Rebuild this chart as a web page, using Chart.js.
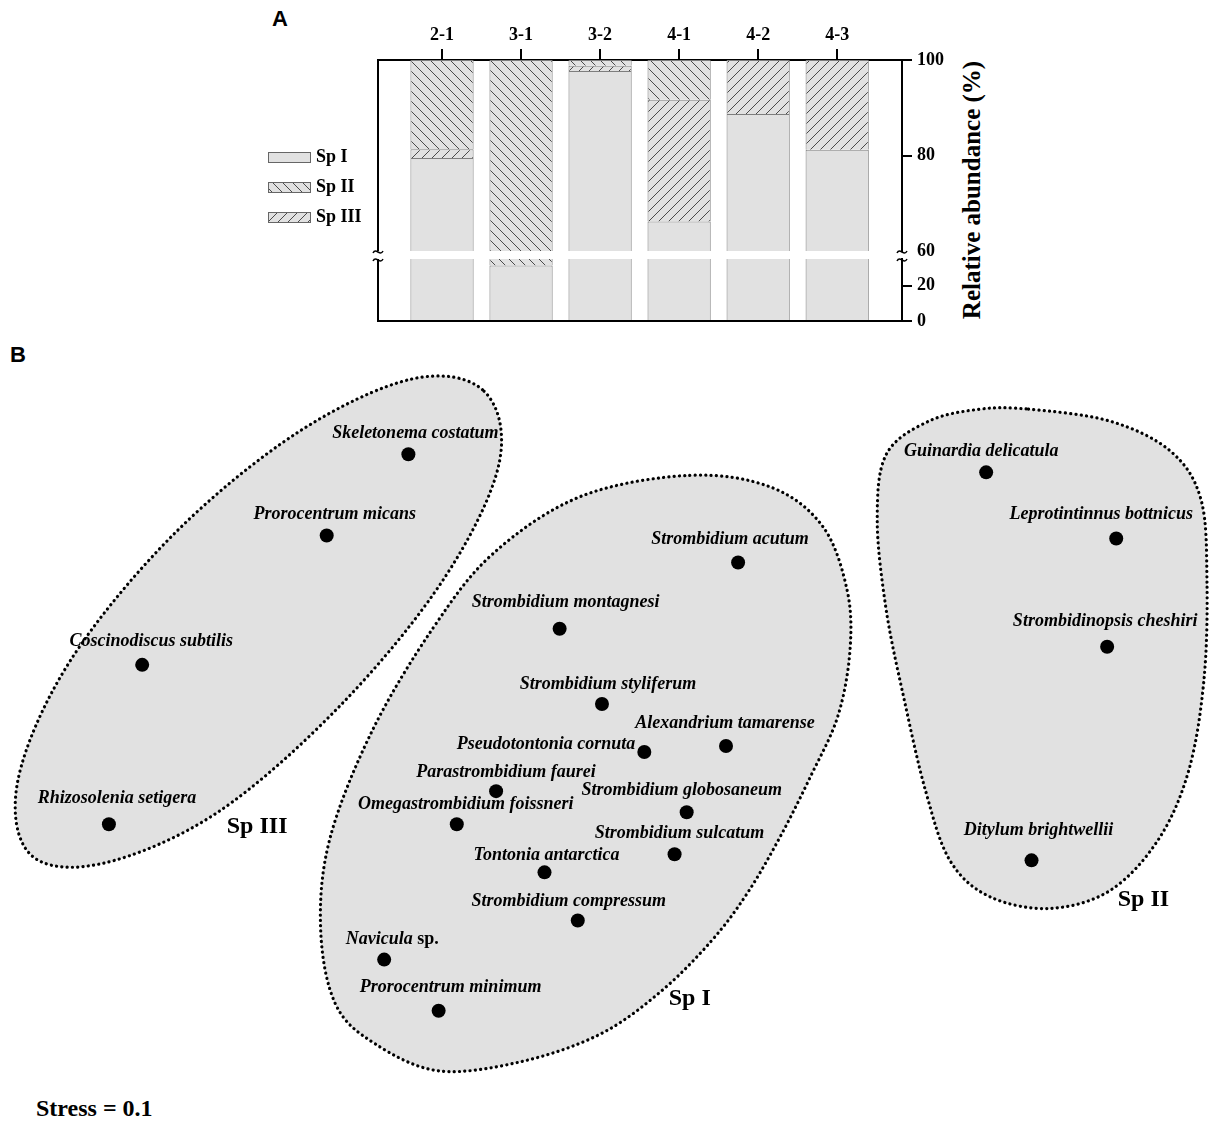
<!DOCTYPE html>
<html>
<head>
<meta charset="utf-8">
<script src="https://cdn.jsdelivr.net/npm/chart.js@4.4.0/dist/chart.umd.min.js"></script>
<style>
  body { margin: 0; background: #fff; width: 1210px; height: 1122px; position: relative; overflow: hidden; }
  canvas { position: absolute; left: 0; }
  .txt { position: absolute; color: #000; white-space: nowrap; }
  .sans { font: bold 22px "Liberation Sans", Arial, sans-serif; }
  .serif { font: bold 24px "Liberation Serif", "Times New Roman", serif; }
</style>
</head>
<body>
<div class="txt sans" style="left:272px; top:6px;">A</div>
<div class="txt sans" style="left:10px; top:342px;">B</div>
<div class="txt serif" style="left:972px; top:190px; font-size:25px; transform:translate(-50%,-50%) rotate(-90deg);">Relative abundance (%)</div>
<div class="txt serif" style="left:36px; top:1095px;">Stress = 0.1</div>

<canvas id="barTop" width="1210" height="270" style="top:0"></canvas>
<canvas id="barLow" width="1210" height="100" style="top:240px"></canvas>
<canvas id="nmds" width="1210" height="782" style="top:340px"></canvas>

<script>
// ---------------- DATA: panel A (relative abundance, %) ----------------
const sites = ["2-1", "3-1", "3-2", "4-1", "4-2", "4-3"];
const spI   = [79.5, 31.3, 97.7, 66.2, 88.7, 81.2];
const spII  = [18.7, 68.7, 1.2, 8.3, 0, 0];
const spIII = [1.8, 0, 1.1, 25.5, 11.3, 18.8];
const upperTicks = [60, 80, 100];
const lowerTicks = [0, 20];

// ---------------- DATA: panel B (NMDS ordination) ----------------
const grpIIINames = ["Skeletonema costatum", "Prorocentrum micans", "Coscinodiscus subtilis", "Rhizosolenia setigera"];
const grpIIIX = [-0.65, -0.92, -1.53, -1.64];
const grpIIIY = [0.92, 0.65, 0.22, -0.31];

const grpINames = ["Strombidium acutum", "Strombidium montagnesi", "Strombidium styliferum", "Alexandrium tamarense",
  "Pseudotontonia cornuta", "Parastrombidium faurei", "Strombidium globosaneum", "Omegastrombidium foissneri",
  "Strombidium sulcatum", "Tontonia antarctica", "Strombidium compressum", "Navicula sp.", "Prorocentrum minimum"];
const grpIX = [0.44, -0.15, -0.01, 0.40, 0.13, -0.36, 0.27, -0.49, 0.23, -0.20, -0.09, -0.73, -0.55];
const grpIY = [0.56, 0.34, 0.09, -0.05, -0.07, -0.20, -0.27, -0.31, -0.41, -0.47, -0.63, -0.76, -0.93];

const grpIINames = ["Guinardia delicatula", "Leprotintinnus bottnicus", "Strombidinopsis cheshiri", "Ditylum brightwellii"];
const grpIIX = [1.26, 1.69, 1.66, 1.41];
const grpIIY = [0.86, 0.64, 0.28, -0.43];

// group outlines (NMDS units)
const hullIIIX = [-0.40, -0.35, -0.53, -0.87, -1.28, -1.66, -1.90, -1.94, -1.77, -1.43, -1.02, -0.64];
const hullIIIY = [1.13, 0.89, 0.51, 0.09, -0.27, -0.44, -0.41, -0.16, 0.23, 0.65, 0.99, 1.17];
const hullIX = [0.28, 0.55, 0.72, 0.80, 0.81, 0.77, 0.68, 0.58, 0.47, 0.35, 0.18, -0.02, -0.28, -0.55, -0.76, -0.89, -0.94, -0.91, -0.77, -0.57, -0.37, -0.08];
const hullIY = [0.85, 0.81, 0.68, 0.47, 0.27, 0.05, -0.15, -0.35, -0.54, -0.70, -0.87, -1.01, -1.10, -1.13, -1.04, -0.91, -0.66, -0.36, 0.00, 0.34, 0.59, 0.78];
const hullIIX = [1.40, 1.67, 1.87, 1.97, 1.99, 1.98, 1.93, 1.83, 1.67, 1.47, 1.27, 1.14, 1.06, 0.99, 0.93, 0.90, 0.93, 1.07, 1.24];
const hullIIY = [1.07, 1.03, 0.93, 0.77, 0.50, 0.17, -0.13, -0.36, -0.53, -0.59, -0.55, -0.43, -0.20, 0.10, 0.40, 0.70, 0.92, 1.03, 1.07];

const groupTags = ["Sp III", "Sp I", "Sp II"];
const groupTagX = [-1.15, 0.28, 1.78];
const groupTagY = [-0.32, -0.89, -0.56];

// label placement relative to each dot (px): [dx, dy, align]
const labelNudge = {
  "Skeletonema costatum": [7, -21], "Prorocentrum micans": [8, -21], "Coscinodiscus subtilis": [9, -23],
  "Rhizosolenia setigera": [8, -26], "Strombidium acutum": [-8, -23], "Strombidium montagnesi": [6, -26],
  "Strombidium styliferum": [6, -20], "Alexandrium tamarense": [-1, -23], "Pseudotontonia cornuta": [-9, -8, "right"],
  "Parastrombidium faurei": [10, -19], "Strombidium globosaneum": [-5, -22], "Omegastrombidium foissneri": [9, -20],
  "Strombidium sulcatum": [5, -21], "Tontonia antarctica": [2, -17], "Strombidium compressum": [-9, -19],
  "Navicula sp.": [8, -20], "Prorocentrum minimum": [12, -23], "Guinardia delicatula": [-5, -21],
  "Leprotintinnus bottnicus": [-15, -24], "Strombidinopsis cheshiri": [-2, -25], "Ditylum brightwellii": [7, -30]
};

const serif = '"Liberation Serif", "Times New Roman", serif';
const grey = "#e1e1e1";

// ---------------- PATTERNS ----------------
function hatch(dir) {
  const s = 10;
  const c = document.createElement("canvas");
  c.width = c.height = s;
  const g = c.getContext("2d");
  g.fillStyle = grey;
  g.fillRect(0, 0, s, s);
  g.strokeStyle = "#4a4a4a";
  g.lineWidth = 1;
  g.beginPath();
  for (let k = -1; k <= 1; k++) {
    if (dir === "back") { g.moveTo(k * s, 0); g.lineTo(k * s + s, s); }
    else { g.moveTo(k * s, s); g.lineTo(k * s + s, 0); }
  }
  g.stroke();
  return g.createPattern(c, "repeat");
}
const fillSp = { "Sp I": grey, "Sp II": hatch("back"), "Sp III": hatch("fwd") };

// ---------------- PANEL A ----------------
function barSets() {
  const pts = arr => arr.map((v, i) => ({ x: i + 1, y: v || null }));
  return [["Sp I", spI], ["Sp III", spIII], ["Sp II", spII]].map(([label, arr]) => ({
    label, data: pts(arr), backgroundColor: fillSp[label],
    borderColor: "#7d7d7d", borderWidth: 1, clip: 0,
    categoryPercentage: 0.8, barPercentage: 1
  }));
}

function squiggle(ctx, x, y) {
  ctx.beginPath();
  ctx.moveTo(x - 5, y + 2);
  ctx.bezierCurveTo(x - 2, y - 4, x + 2, y + 6, x + 5, y);
  ctx.stroke();
}

const framePlugin = {
  id: "frame",
  afterDraw(chart, args, opts) {
    const { ctx, chartArea: a } = chart;
    ctx.save();
    ctx.strokeStyle = "#000";
    ctx.lineWidth = 2;
    ctx.beginPath();
    ctx.moveTo(a.left, a.top);
    ctx.lineTo(a.left, a.bottom);
    ctx.stroke();
    ctx.lineWidth = 1.5;
    const y = opts.brk === "bottom" ? a.bottom : a.top;
    squiggle(ctx, a.left, y);
    squiggle(ctx, a.right, y);
    if (opts.legend) {
      ["Sp I", "Sp II", "Sp III"].forEach((name, k) => {
        const ds = chart.data.datasets.find(d => d.label === name);
        const top = 152 + k * 30;
        ctx.fillStyle = ds.backgroundColor;
        ctx.fillRect(268, top, 42, 10);
        ctx.strokeStyle = "#666";
        ctx.lineWidth = 1;
        ctx.strokeRect(268.5, top + 0.5, 42, 10);
        ctx.fillStyle = "#000";
        ctx.font = `bold 18px ${serif}`;
        ctx.textBaseline = "middle";
        ctx.fillText(name, 316, top + 5);
      });
    }
    ctx.restore();
  }
};

const tickFont = { family: serif, size: 18, weight: "bold" };

function barOptions(part) {
  const upper = part === "top";
  return {
    responsive: false,
    animation: false,
    layout: { autoPadding: false, padding: { left: 378, right: 248, top: upper ? 0 : 19, bottom: 19 } },
    plugins: { legend: { display: false }, tooltip: { enabled: false }, frame: { brk: upper ? "bottom" : "top", legend: upper } },
    scales: {
      x: {
        type: "linear", position: upper ? "top" : "bottom", stacked: true, offset: false, min: 0.19, max: 6.82,
        afterBuildTicks: s => { s.ticks = sites.map((_, i) => ({ value: i + 1 })); },
        afterFit: s => { s.height = upper ? 60 : 0; },
        ticks: { display: upper, callback: v => sites[v - 1], font: tickFont, color: "#000", padding: 3, maxRotation: 0 },
        grid: { offset: false, drawOnChartArea: false, drawTicks: upper, tickLength: 11, color: "#000", lineWidth: 2 },
        border: { color: "#000", width: 2 }
      },
      y: {
        position: "right", stacked: true, min: upper ? 60 : 0, max: upper ? 100 : 35,
        afterBuildTicks: s => { s.ticks = (upper ? upperTicks : lowerTicks).map(v => ({ value: v })); },
        afterFit: s => { s.width = 60; },
        ticks: { font: tickFont, color: "#000", padding: 5 },
        grid: {
          drawOnChartArea: false, tickLength: 10, lineWidth: 2,
          color: c => (c.tick && upper && c.tick.value === 60) ? "rgba(0,0,0,0)" : "#000"
        },
        border: { color: "#000", width: 2 }
      }
    }
  };
}

new Chart(document.getElementById("barTop"), { type: "bar", data: { datasets: barSets() }, options: barOptions("top"), plugins: [framePlugin] });
new Chart(document.getElementById("barLow"), { type: "bar", data: { datasets: barSets() }, options: barOptions("low"), plugins: [framePlugin] });

// ---------------- PANEL B ----------------
const groups = [
  { names: grpIIINames, xs: grpIIIX, ys: grpIIIY, hx: hullIIIX, hy: hullIIIY },
  { names: grpINames, xs: grpIX, ys: grpIY, hx: hullIX, hy: hullIY },
  { names: grpIINames, xs: grpIIX, ys: grpIIY, hx: hullIIX, hy: hullIIY }
];

function smoothClosed(ctx, pts) {
  const n = pts.length;
  ctx.beginPath();
  ctx.moveTo(pts[0].x, pts[0].y);
  for (let i = 0; i < n; i++) {
    const p0 = pts[(i - 1 + n) % n], p1 = pts[i], p2 = pts[(i + 1) % n], p3 = pts[(i + 2) % n];
    ctx.bezierCurveTo(
      p1.x + (p2.x - p0.x) / 6, p1.y + (p2.y - p0.y) / 6,
      p2.x - (p3.x - p1.x) / 6, p2.y - (p3.y - p1.y) / 6,
      p2.x, p2.y);
  }
  ctx.closePath();
}

const ordinationPlugin = {
  id: "ordination",
  beforeDatasetsDraw(chart) {
    const { ctx, scales: { x, y } } = chart;
    ctx.save();
    groups.forEach(g => {
      const pts = g.hx.map((v, i) => ({ x: x.getPixelForValue(v), y: y.getPixelForValue(g.hy[i]) }));
      smoothClosed(ctx, pts);
      ctx.fillStyle = grey;
      ctx.fill();
      ctx.setLineDash([0.1, 5.2]);
      ctx.lineCap = "round";
      ctx.lineWidth = 3.2;
      ctx.strokeStyle = "#000";
      ctx.stroke();
      ctx.setLineDash([]);
    });
    ctx.restore();
  },
  afterDatasetsDraw(chart) {
    const { ctx, scales: { x, y } } = chart;
    ctx.save();
    ctx.fillStyle = "#000";
    ctx.textBaseline = "middle";
    const ital = `italic bold 18px ${serif}`, upright = `bold 18px ${serif}`;
    groups.forEach((g, gi) => {
      const meta = chart.getDatasetMeta(gi);
      g.names.forEach((name, i) => {
        const pt = meta.data[i];
        const [dx, dy, align] = labelNudge[name] || [0, -21];
        const parts = name.endsWith(" sp.") ? [[name.slice(0, -4), ital], [" sp.", upright]] : [[name, ital]];
        const widths = parts.map(([t, f]) => { ctx.font = f; return ctx.measureText(t).width; });
        const total = widths.reduce((s, w) => s + w, 0);
        let cx = pt.x + dx - (align === "right" ? total : total / 2);
        ctx.textAlign = "left";
        parts.forEach(([t, f], k) => {
          ctx.font = f;
          ctx.fillText(t, cx, pt.y + dy);
          cx += widths[k];
        });
      });
    });
    ctx.font = `bold 24px ${serif}`;
    ctx.textAlign = "center";
    groupTags.forEach((t, i) => ctx.fillText(t, x.getPixelForValue(groupTagX[i]), y.getPixelForValue(groupTagY[i])));
    ctx.restore();
  }
};

new Chart(document.getElementById("nmds"), {
  type: "scatter",
  data: {
    datasets: groups.map((g, gi) => ({
      label: groupTags[gi],
      data: g.xs.map((v, i) => ({ x: v, y: g.ys[i] })),
      pointRadius: 7,
      pointBackgroundColor: "#000",
      pointBorderWidth: 0
    }))
  },
  options: {
    responsive: false,
    animation: false,
    layout: { autoPadding: false, padding: 0 },
    plugins: { legend: { display: false }, tooltip: { enabled: false } },
    scales: {
      x: { type: "linear", min: -2, max: 2, display: false },
      y: { type: "linear", min: -1.3, max: 1.3, display: false }
    }
  },
  plugins: [ordinationPlugin]
});
</script>
</body>
</html>
